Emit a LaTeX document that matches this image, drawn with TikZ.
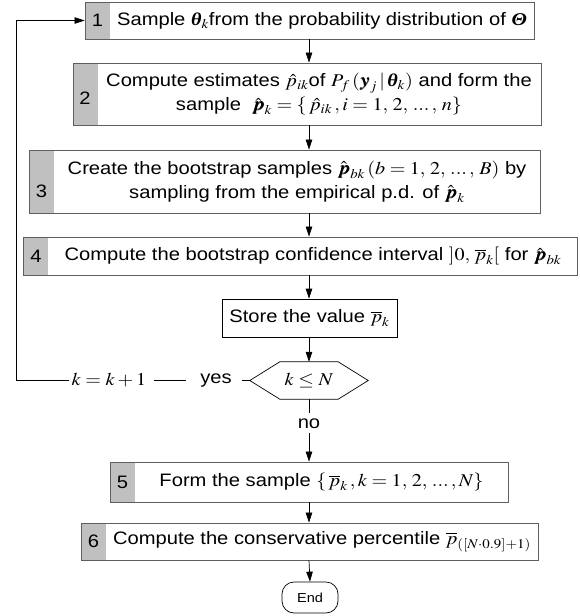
\documentclass[tikz,border=0pt]{standalone}
\usepackage{mathptmx}
\usepackage{bm}
\usepackage[no-math]{fontspec}
\setmainfont{Liberation Sans}
\newfontfamily\grkfont{Liberation Serif}
\usetikzlibrary{arrows.meta}
\definecolor{stripgray}{RGB}{192,192,192}
\definecolor{boxedge}{RGB}{95,95,95}
\newcommand{\bgr}[1]{\mbox{\grkfont\bfseries\itshape #1}}
\begin{document}
\begin{tikzpicture}[x=1pt,y=-1pt,
  stepbox/.style={draw=boxedge, line width=0.9pt, fill=white, inner sep=0pt,
    path picture={\fill[stripgray] (path picture bounding box.north west) rectangle ([xshift=25pt]path picture bounding box.south west);}},
  plainbox/.style={draw=black, line width=0.7pt, fill=white, inner sep=0pt},
  txt/.style={font=\fontsize{18}{23}\selectfont, align=center, inner sep=0pt, xscale=1.12, transform shape},
  arr/.style={-{Triangle[length=10pt,width=6.5pt]}, line width=0.7pt},
  link/.style={line width=0.7pt}]
\useasboundingbox (0,0) rectangle (579,616);
\coordinate (ax) at (309,0);
% step 1
\node[stepbox, minimum width=449pt, minimum height=37pt] (b1) at (309.5,20.5) {};
\node[txt] (n1) at (97.5,20.5) {1};
\node[txt] (t1) at (322,20.5) {Sample $\bgr{θ}_k$from the probability distribution of $\bgr{Θ}$};
% step 2
\node[stepbox, minimum width=468pt, minimum height=62pt] (b2) at (307,94) {};
\node[txt] (n2) at (85,98) {2};
\node[txt] (t2) at (319,94) {Compute estimates $\hat{p}_{ik}$of $P_f\,(\bm{y}_j\,|\,\bgr{θ}_k)$ and form the\\[1pt] sample \ $\hat{\bm{p}}_k=\{\,\hat{p}_{ik}\,, i=1,\,2,\,{...}\,,\,n\}$};
% step 3
\node[stepbox, minimum width=511pt, minimum height=63pt] (b3) at (284.5,181.5) {};
\node[txt] (n3) at (41.5,191) {3};
\node[txt] (t3) at (297,181.5) {Create the bootstrap samples $\hat{\bm{p}}_{bk}\,(b=1,\,2,\,{...}\,,\,B)$ by\\[1pt] sampling from the empirical p.d. of $\hat{\bm{p}}_k$};
% step 4
\node[stepbox, minimum width=554pt, minimum height=38pt] (b4) at (300,256) {};
\node[txt] (n4) at (36,256) {4};
\node[txt] (t4) at (313,256) {Compute the bootstrap confidence interval $]0,\,\overline{p}_k[$ for $\hat{\bm{p}}_{bk}$};
% store
\node[plainbox, minimum width=175pt, minimum height=38pt] (st) at (309.5,318) {};
\node[txt] (tst) at (309.5,318) {Store the value $\overline{p}_k$};
% decision
\node[minimum width=118pt, minimum height=37pt, inner sep=0pt] (hex) at (309,380.5) {};
\draw[link] (hex.west) -- ([xshift=30pt]hex.north west) -- ([xshift=-30pt]hex.north east) -- (hex.east) -- ([xshift=-30pt]hex.south east) -- ([xshift=30pt]hex.south west) -- cycle;
\node[txt] (thex) at (309,380.5) {$k\le N$};
\node[txt] (yes) at (216,380.5) {yes};
\node[txt] (kk) at (109,380.5) {$k=k+1$};
\node[txt] (no) at (309,424) {no};
\coordinate (lp) at (16.5,380.5);
% step 5, 6, end
\node[stepbox, minimum width=398pt, minimum height=40pt] (b5) at (309,482) {};
\node[txt] (n5) at (122.5,482) {5};
\node[txt] (t5) at (321.5,482) {Form the sample $\{\,\overline{p}_k\,, k=1,\,2,\,{...}\,,N\}$};
\node[stepbox, minimum width=457pt, minimum height=37pt] (b6) at (309.5,541.5) {};
\node[txt] (n6) at (93.5,541.5) {6};
\node[txt] (t6) at (322,541.5) {Compute the conservative percentile $\overline{p}_{([N\cdot 0.9]+1)}$};
\node[draw, line width=0.7pt, rounded corners=12pt, minimum width=56pt, minimum height=31pt] (end) at (310,597.5) {};
\node[txt, font=\fontsize{13}{15}\selectfont] (tend) at (310,597.5) {End};
% connectors
\draw[arr] (b1.south -| ax) -- (b2.north -| ax);
\draw[arr] (b2.south -| ax) -- (b3.north -| ax);
\draw[arr] (b3.south -| ax) -- (b4.north -| ax);
\draw[arr] (b4.south -| ax) -- (st.north -| ax);
\draw[arr] (st.south -| ax) -- (hex.north);
\draw[link] (hex.south) -- ([yshift=6pt]no.north);
\draw[arr] ([yshift=-4pt]no.south) -- (b5.north -| ax);
\draw[arr] (b5.south -| ax) -- (b6.north -| ax);
\draw[arr] (b6.south -| ax) -- (end.north);
\draw[link] (hex.west) -- ([xshift=10pt]yes.east);
\draw[link] ([xshift=-14pt]yes.west) -- ([xshift=7pt]kk.east);
\draw[arr] ([xshift=-2pt]kk.west) -- (lp) |- (b1.west);
\end{tikzpicture}
\end{document}
